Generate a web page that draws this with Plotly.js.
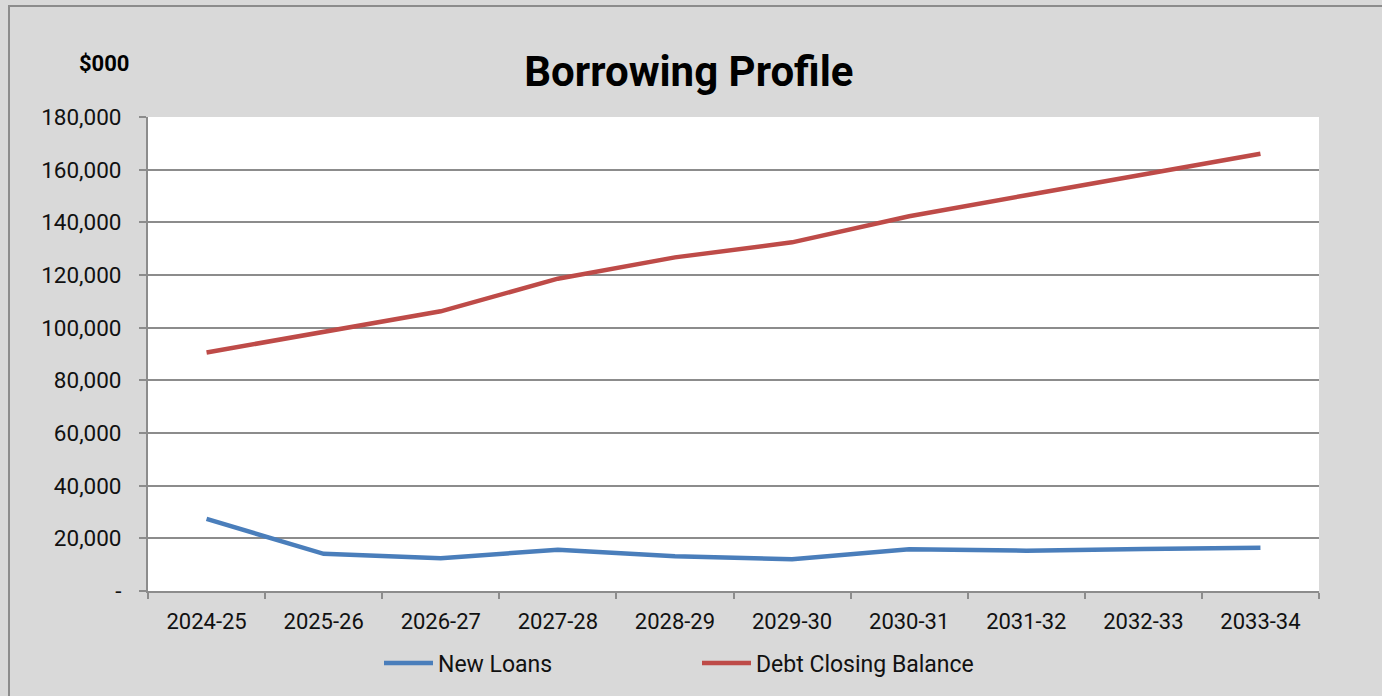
<!DOCTYPE html>
<html>
<head>
<meta charset="utf-8">
<script src="https://cdn.plot.ly/plotly-3.0.1.min.js"></script>
<style>
  html, body { margin: 0; padding: 0; background: #d9d9d9; overflow: hidden; }
  #chart { position: absolute; left: 0; top: 0; width: 1382px; height: 696px; }
  #frame { position: absolute; left: 8px; top: 5px; width: 1400px; height: 720px;
           border: 2px solid #8c8c8c; pointer-events: none; box-sizing: border-box; }
</style>
</head>
<body>
<div id="chart"></div>
<div id="frame"></div>
<script>
const years = ["2024-25","2025-26","2026-27","2027-28","2028-29","2029-30","2030-31","2031-32","2032-33","2033-34"];
const newLoans = [27400, 14100, 12400, 15700, 13200, 12050, 15850, 15300, 15950, 16450];
const debtClosingBalance = [90600, 98400, 106200, 118600, 126700, 132400, 142300, 150300, 158250, 166050];
const yTickVals = [0, 20000, 40000, 60000, 80000, 100000, 120000, 140000, 160000, 180000];
const yTickText = ["-", "20,000", "40,000", "60,000", "80,000", "100,000", "120,000", "140,000", "160,000", "180,000"];

const FONT = "Roboto, 'Liberation Sans', sans-serif";

const traces = [
  { x: years, y: newLoans, name: "New Loans", type: "scatter", mode: "lines",
    line: { color: "#4a7ebb", width: 4.5 } },
  { x: years, y: debtClosingBalance, name: "Debt Closing Balance", type: "scatter", mode: "lines",
    line: { color: "#be4b48", width: 4.5 } }
];

const layout = {
  width: 1382, height: 696,
  paper_bgcolor: "#d9d9d9", plot_bgcolor: "#ffffff",
  margin: { l: 148, r: 63, t: 117, b: 105 },
  font: { family: FONT, color: "#000000", size: 22 },
  title: { text: "<b>Borrowing Profile</b>", font: { family: FONT, size: 42, color: "#000" },
           x: 0.4985, xref: "container", xanchor: "center", y: 1 - 71/696, yref: "container", yanchor: "middle" },
  xaxis: {
    type: "category", range: [-0.5, 9.5], tickson: "boundaries", ticks: "outside", ticklen: 6, tickwidth: 2, tickcolor: "#8c8c8c",
    showline: true, linecolor: "#8c8c8c", linewidth: 2, showgrid: false, zeroline: false,
    tickfont: { family: FONT, size: 22, color: "#111" }, ticklabelstandoff: 10,
    fixedrange: true
  },
  yaxis: {
    range: [0, 180000], tickvals: yTickVals, ticktext: yTickText,
    ticks: "outside", ticklen: 7, tickwidth: 2, tickcolor: "#8c8c8c",
    showline: true, linecolor: "#8c8c8c", linewidth: 2,
    showgrid: true, gridcolor: "#8c8c8c", gridwidth: 2, zeroline: false,
    tickfont: { family: FONT, size: 22.5, color: "#111" }, ticklabelstandoff: 13,
    fixedrange: true
  },
  showlegend: true,
  legend: { orientation: "h", x: (379 - 148) / 1171, xanchor: "left", y: (591 - 663) / 474, yanchor: "middle",
            font: { family: FONT, size: 23, color: "#111" }, bgcolor: "rgba(0,0,0,0)",
            entrywidth: 254, entrywidthmode: "pixels", itemwidth: 49 },
  annotations: [
    { text: "<b>$000</b>", xref: "paper", yref: "paper", x: (132 - 148) / 1171, xanchor: "right",
      y: 1 + (117 - 64) / 474, yanchor: "middle", showarrow: false,
      font: { family: FONT, size: 22, color: "#000" } }
  ]
};

Plotly.newPlot("chart", traces, layout, { displayModeBar: false, staticPlot: true });
</script>
</body>
</html>
